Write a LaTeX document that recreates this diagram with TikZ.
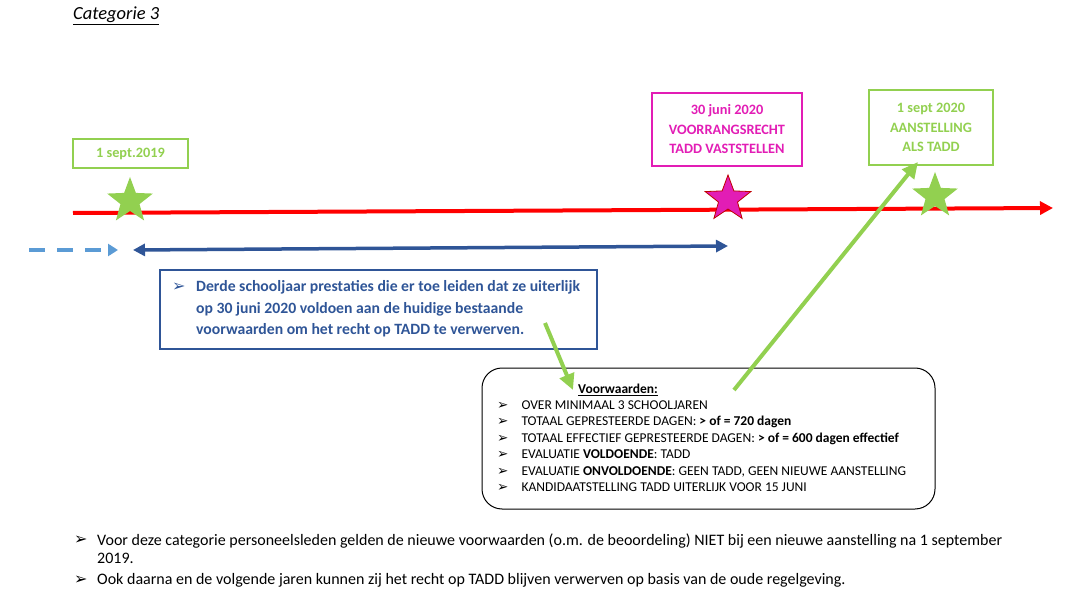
\documentclass[tikz,border=0pt]{standalone}
\usepackage{fontspec}
\setmainfont{Carlito}
\newfontfamily\symfont{DejaVu Sans}
\usetikzlibrary{arrows.meta,shapes.geometric}

\definecolor{tgreen}{HTML}{92D050}
\definecolor{tpink}{HTML}{E21DB5}
\definecolor{tblue}{HTML}{2F5597}
\definecolor{tlblue}{HTML}{5B9BD5}
\newcommand{\bul}{{\symfont\char"27A2}}

\begin{document}
\begin{tikzpicture}
		[x=1pt,y=-1pt,every node/.style={inner sep=0pt,font=\fontsize{16}{18}\selectfont},
		datebox/.style={draw,line width=1.5pt,align=center,font=\fontsize{14.3}{19.5}\selectfont\bfseries},
		starnode/.style={star,star points=5,star point ratio=2.4,minimum size=48pt},
		gedge/.style={-{Triangle[length=16pt,width=15pt]},line width=4pt,tgreen},
		bedge/.style={{Triangle[length=12pt,width=12pt]}-{Triangle[length=12pt,width=12pt]},line width=3.5pt,tblue}]
		\useasboundingbox (0,0) rectangle (1070,601);
		\node[anchor=west,font=\fontsize{18.5}{20}\selectfont\itshape] (title) at (73,16) {\underline{Categorie 3}};
		
		\node[datebox,tgreen,minimum width=115,minimum height=29] (d2019) at (130.5,153.5) {1 sept.2019};
		\node[datebox,tpink,minimum width=150,minimum height=73] (d2020a) at (727,129.5) {30 juni 2020\\VOORRANGSRECHT\\TADD VASTSTELLEN};
		\node[datebox,tgreen,minimum width=124,minimum height=75] (d2020b) at (931,127.5) {1 sept 2020\\AANSTELLING\\ALS TADD};
		
		\coordinate (t0) at (73,213);
		\coordinate (t1) at (1053,208);
		\draw[-{Triangle[length=13pt,width=13pt]},line width=4pt,red] (t0) -- (t1);
		
		\node[starnode,fill=tgreen] (s2019) at (130,201) {};
		\node[starnode,fill=tpink,draw=red!75!black,line width=0.8pt] (s2020a) at (728,199) {};
		\node[starnode,fill=tgreen] (s2020b) at (935,196) {};
		
		\coordinate (p0) at (29,250);
		\coordinate (p1) at (118,250);
		\coordinate (b0) at (133,250);
		\coordinate (b1) at (728,246);
		\draw[-{Triangle[length=10pt,width=12pt]},line width=3.5pt,tlblue,dash pattern=on 16pt off 12pt] (p0) -- (p1);
		\draw[bedge] (b0) -- (b1);
		
		\node[draw=tblue,line width=1.5pt,minimum width=437,minimum height=79] (info) at (378.5,309.5) {};
		\node[anchor=west,text=tblue] (infob) at (172,287) {\bul};
		\node[anchor=west,align=left,text=tblue,font=\fontsize{15.7}{21.5}\selectfont\bfseries] (infot) at (196,309) {Derde schooljaar prestaties die er toe leiden dat ze uiterlijk\\op 30 juni 2020 voldoen aan de huidige bestaande\\voorwaarden om het recht op TADD te verwerven.};
		
		\node[draw,line width=1pt,rounded corners=20pt,minimum width=453,minimum height=141] (cond) at (708.5,438.5) {};
		\node[font=\fontsize{13.5}{16}\selectfont\bfseries] (condh) at (618,390) {\underline{Voorwaarden:}};
		\node[anchor=west,font=\fontsize{13.5}{16.5}\selectfont] (condl) at (497,447) {\begin{tabular}{@{}l@{\hspace{13pt}}l@{}}
			\bul & OVER MINIMAAL 3 SCHOOLJAREN\\
			\bul & TOTAAL GEPRESTEERDE DAGEN: \textbf{> of = 720 dagen}\\
			\bul & TOTAAL EFFECTIEF GEPRESTEERDE DAGEN: \textbf{> of = 600 dagen effectief}\\
			\bul & EVALUATIE \textbf{VOLDOENDE}: TADD\\
			\bul & EVALUATIE \textbf{ONVOLDOENDE}: GEEN TADD, GEEN NIEUWE AANSTELLING\\
			\bul & KANDIDAATSTELLING TADD UITERLIJK VOOR 15 JUNI
		\end{tabular}};
		
		\coordinate (g1a) at (545,323);
		\coordinate (g1b) at (573,390);
		\coordinate (g2a) at (734,390);
		\coordinate (g2b) at (918,162);
		\foreach \from/\to in {g1a/g1b,g2a/g2b}
		\draw[gedge] (\from) -- (\to);
		
		\node[anchor=west] (nb1) at (74,540) {\bul};
		\node[anchor=west,align=left] (nt1) at (97,549) {Voor deze categorie personeelsleden gelden de nieuwe voorwaarden (o.m. de beoordeling) NIET bij een nieuwe aanstelling na 1 september\\2019.};
		\node[anchor=west] (nb2) at (74,580) {\bul};
		\node[anchor=west] (nt2) at (97,580) {Ook daarna en de volgende jaren kunnen zij het recht op TADD blijven verwerven op basis van de oude regelgeving.};
		\end{tikzpicture}
\end{document}
